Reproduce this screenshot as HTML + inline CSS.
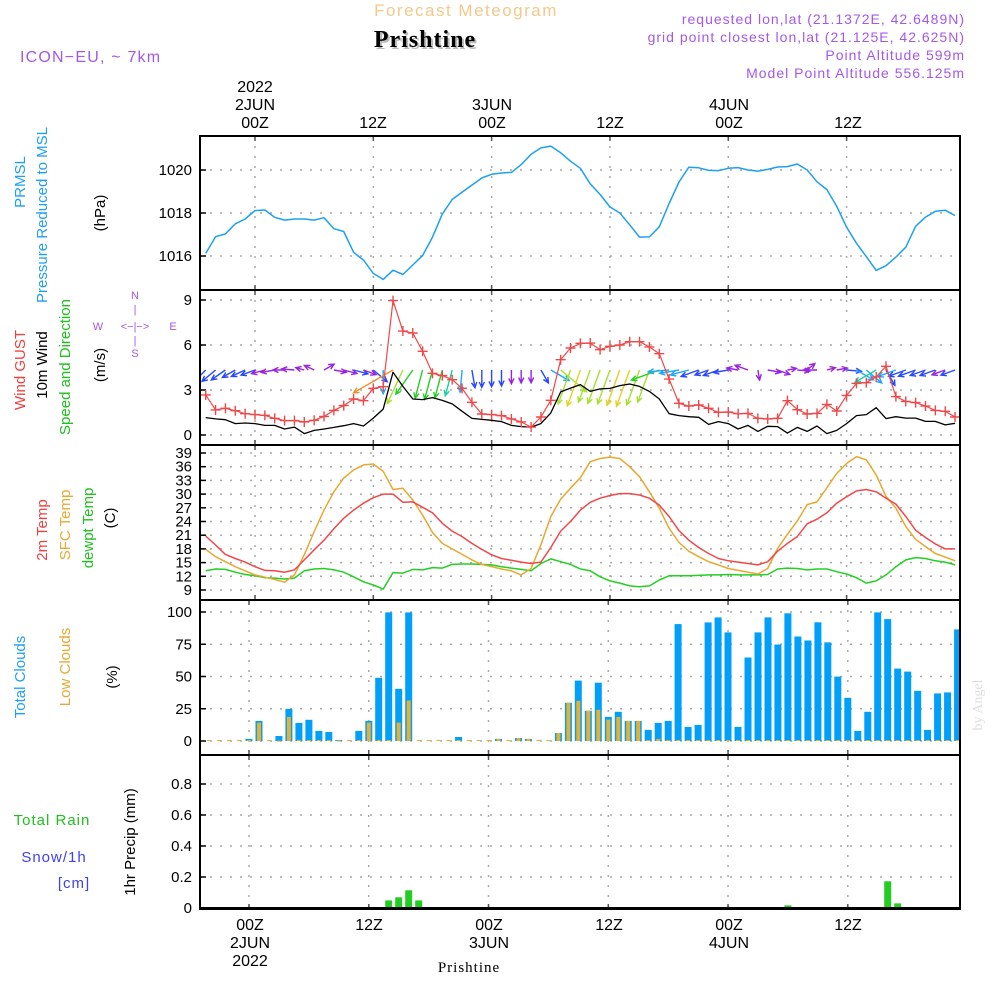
<!DOCTYPE html>
<html><head><meta charset="utf-8">
<style>
html,body{margin:0;padding:0;background:#fff;}
svg{display:block;font-family:"Liberation Sans",sans-serif;}
</style></head>
<body>
<svg id="chart" width="1000" height="1000" viewBox="0 0 1000 1000" xmlns="http://www.w3.org/2000/svg">
<rect x="0" y="0" width="1000" height="1000" fill="#fff"/>
<g>
<text x="466" y="16" text-anchor="middle" font-size="17" fill="#f2c98a" letter-spacing="1.5">Forecast Meteogram</text>
<text x="427" y="49" text-anchor="middle" font-size="24" font-weight="bold" fill="#bbb" font-family="Liberation Serif, serif" letter-spacing="1">Prishtine</text>
<text x="425" y="47" text-anchor="middle" font-size="24" font-weight="bold" fill="#000" font-family="Liberation Serif, serif" letter-spacing="1">Prishtine</text>
<text x="20" y="62" font-size="16" fill="#a458e8" letter-spacing="1.2">ICON−EU, ~ 7km</text>
<text x="965" y="24" text-anchor="end" font-size="14" fill="#a458e8" letter-spacing="1">requested lon,lat (21.1372E, 42.6489N)</text>
<text x="965" y="42" text-anchor="end" font-size="14" fill="#a458e8" letter-spacing="1">grid point closest lon,lat (21.125E, 42.625N)</text>
<text x="965" y="60" text-anchor="end" font-size="14" fill="#a458e8" letter-spacing="1">Point Altitude 599m</text>
<text x="965" y="78" text-anchor="end" font-size="14" fill="#a458e8" letter-spacing="1">Model Point Altitude 556.125m</text>
</g>
<g font-size="16" text-anchor="middle" fill="#000">
<text x="255" y="92">2022</text>
<text x="255" y="110">2JUN</text>
<text x="255" y="128">00Z</text>
<text x="373" y="128">12Z</text>
<text x="492" y="110">3JUN</text>
<text x="492" y="128">00Z</text>
<text x="610" y="128">12Z</text>
<text x="729" y="110">4JUN</text>
<text x="729" y="128">00Z</text>
<text x="848" y="128">12Z</text>
</g>
<g font-size="16" text-anchor="middle" fill="#000">
<text x="250" y="930">00Z</text>
<text x="369" y="930">12Z</text>
<text x="489" y="930">00Z</text>
<text x="609" y="930">12Z</text>
<text x="729" y="930">00Z</text>
<text x="848" y="930">12Z</text>
<text x="250" y="948">2JUN</text>
<text x="489" y="948">3JUN</text>
<text x="729" y="948">4JUN</text>
<text x="250" y="966">2022</text>
<text x="469" y="972" font-size="15" font-family="Liberation Serif, serif" letter-spacing="1">Prishtine</text>
</g>
<g font-size="15" text-anchor="middle">
<text transform="translate(25,182) rotate(-90)" fill="#1ea0f0">PRMSL</text>
<text transform="translate(47,215) rotate(-90)" fill="#1ea0f0">Pressure Reduced to MSL</text>
<text transform="translate(105,213) rotate(-90)" fill="#000">(hPa)</text>
<text transform="translate(25,370) rotate(-90)" fill="#f04040">Wind GUST</text>
<text transform="translate(47,365) rotate(-90)" fill="#000">10m Wind</text>
<text transform="translate(70,367) rotate(-90)" fill="#20c020">Speed and Direction</text>
<text transform="translate(105,365) rotate(-90)" fill="#000">(m/s)</text>
<text transform="translate(47,530) rotate(-90)" fill="#f04040">2m Temp</text>
<text transform="translate(70,525) rotate(-90)" fill="#e8a830">SFC Temp</text>
<text transform="translate(93,528) rotate(-90)" fill="#20c020">dewpt Temp</text>
<text transform="translate(115,518) rotate(-90)" fill="#000">(C)</text>
<text transform="translate(25,677) rotate(-90)" fill="#1ea0f0">Total Clouds</text>
<text transform="translate(70,667) rotate(-90)" fill="#e8a830">Low Clouds</text>
<text transform="translate(117,677) rotate(-90)" fill="#000">(%)</text>
<text transform="translate(135,842) rotate(-90)" fill="#000">1hr Precip (mm)</text>
<text x="52" y="825" fill="#20c020" letter-spacing="1">Total  Rain</text>
<text x="54" y="862" fill="#4040f0" letter-spacing="1">Snow/1h</text>
<text x="74" y="888" fill="#4040f0" letter-spacing="1">[cm]</text>
<text transform="translate(982,705) rotate(-90)" fill="#ddd" font-family="Liberation Serif, serif" font-size="14">by Angel</text>
</g>
<g font-size="11" fill="#a458e8" text-anchor="middle">
<text x="135" y="299">N</text><text x="135" y="313">|</text><text x="98" y="330">W</text>
<text x="135" y="330">&lt;−|−&gt;</text><text x="173" y="330">E</text><text x="135" y="344">|</text><text x="135" y="357">S</text>
</g>
<g id="plot"></g>
</svg>
<script>
// ---- data (hourly, hour offsets from 00Z 2JUN) ----
const hours = [];
for (let h = -5; h <= 71; h++) hours.push(h);
const pressure = [1016.12,1016.9,1017.03,1017.5,1017.72,1018.11,1018.14,1017.8,1017.67,1017.72,1017.72,1017.67,1017.78,1017.27,1017.14,1016.17,1015.81,1015.19,1014.91,1015.34,1015.14,1015.58,1016.02,1016.88,1017.95,1018.63,1018.97,1019.3,1019.63,1019.8,1019.86,1019.89,1020.25,1020.73,1021.03,1021.11,1020.8,1020.41,1020.08,
1019.36,1018.86,1018.28,1018.0,1017.45,1016.88,1016.89,1017.36,1018.44,1019.44,1020.13,1020.1,1019.98,1019.97,1020.08,1020.11,1020.0,1019.95,1020.03,1020.14,1020.16,1020.28,1020.0,1019.45,1019.09,1018.31,1017.34,1016.59,1015.97,1015.33,1015.55,1015.95,1016.41,1017.38,1017.81,1018.08,1018.13,1017.88];
const windGust = [2.67,1.67,1.78,1.62,1.42,1.36,1.31,1.11,0.96,0.96,0.87,0.98,1.24,1.64,1.96,2.4,2.29,3.11,3.22,8.96,6.93,6.8,5.58,4.11,3.96,3.69,3.11,2.18,1.4,1.36,1.29,1.07,0.87,0.53,1.2,2.31,5.02,5.8,6.11,
6.13,5.69,5.91,6.0,6.22,6.22,5.87,5.42,3.73,2.11,1.93,2.0,1.78,1.51,1.53,1.42,1.44,1.11,1.07,1.11,2.29,1.69,1.4,1.44,2.04,1.6,2.64,3.44,3.49,3.87,4.58,2.56,2.24,2.16,1.93,1.64,1.58,1.2];
const windSpeed = [1.16,1.07,1.02,0.76,0.8,0.76,0.64,0.64,0.4,0.53,0.09,0.31,0.4,0.51,0.62,0.76,0.6,1.13,1.73,4.18,3.24,2.4,2.36,2.49,2.31,2.07,1.58,1.11,1.04,0.98,0.89,0.64,0.56,0.53,0.76,1.47,2.87,3.13,3.36,
2.91,3.07,3.11,3.29,3.4,3.24,2.91,2.4,1.42,1.29,1.22,1.18,0.71,0.89,0.76,0.4,0.64,0.24,0.58,0.56,0.13,0.51,0.24,0.6,0.09,0.31,0.76,1.29,1.36,1.82,1.09,1.22,1.13,1.13,0.91,0.91,0.67,0.78];
const windDirScreen = [135,140,145,150,155,160,165,170,180,185,195,205,330,10,15,15,20,40,90,150,115,125,105,105,105,105,95,80,90,90,90,90,90,90,60,30,40,110,110,
110,110,110,110,110,110,110,160,175,170,165,160,160,160,170,190,200,80,10,20,350,5,320,180,345,350,5,30,40,150,60,160,160,160,160,160,160,160];
const temp2m = [20.8,18.85,16.8,15.9,15.1,14.1,13.3,13.2,12.9,13.4,15.6,17.8,19.9,22.4,24.7,26.5,28.0,29.2,30.0,30.0,28.2,28.3,27.1,25.9,23.6,21.9,20.7,19.2,17.9,16.7,15.9,15.5,15.1,14.8,15.1,18.3,21.9,24.0,26.5,
28.2,29.1,29.7,30.1,30.1,29.8,29.1,27.6,25.1,22.0,19.9,18.3,17.0,15.9,15.4,15.1,14.8,14.5,15.2,17.5,19.2,20.7,23.5,24.5,25.9,28.0,29.4,30.7,31.0,30.5,29.1,27.8,25.1,22.1,20.5,19.1,18.0,18.0];
const tempSfc = [17.9,16.3,15.2,14.1,13.2,12.3,11.8,11.3,10.7,12.3,16.7,21.8,26.5,30.5,33.5,35.3,36.4,36.6,35.0,31.0,31.3,28.7,25.4,21.6,19.2,18.0,16.8,15.6,14.6,14.1,13.6,13.2,12.3,13.7,18.9,25.1,28.9,31.3,33.6,
37.1,37.8,38.1,37.8,36.0,33.8,30.5,26.9,22.5,19.4,17.5,16.3,15.2,14.5,13.7,13.3,12.9,12.5,13.7,18.1,21.2,24.1,27.7,28.3,31.4,34.5,36.7,38.2,37.5,34.2,29.5,26.9,22.9,20.1,18.5,17.0,16.2,15.4];
const tempDew = [13.2,13.6,13.5,12.9,12.4,12.1,11.7,11.6,11.4,11.6,13.2,13.6,13.7,13.4,12.9,11.9,10.8,10.1,9.2,12.8,12.7,13.5,13.4,13.9,13.8,14.6,14.7,14.7,14.6,14.5,14.1,13.8,13.5,13.2,14.8,15.8,15.2,14.6,13.6,
13.2,11.9,11.0,10.5,9.9,9.7,9.9,11.2,12.1,12.1,12.1,12.2,12.3,12.3,12.4,12.3,12.3,12.3,12.4,13.6,13.8,13.7,13.4,13.6,13.6,13.0,12.5,11.7,10.5,11.0,12.3,14.1,15.6,16.1,15.9,15.4,15.1,14.5];
const totalClouds = [0,0,0,0,0,
1.6,15.6,0,3.9,24.9,14.0,16.4,7.8,7.0,0.8,0,7.8,15.6,49,99.7,40.5,99.7,0,0,0,0,3.1,0,0,0,1.6,0,2.3,1.6,0,0,6.2,29.6,46.8,
23.4,45.2,18.7,22.6,15.6,15.6,8.6,14.0,15.6,90.6,10.9,12.5,91.9,95.8,84.2,10.9,64.7,84.2,95.8,74.8,99.0,81.0,77.9,92.0,76.4,49.9,33.5,7.8,22.6,99.7,94.5,56.1,53.8,38.9,8.6,36.9,37.7,86.5];
const lowClouds = [0,0,0,0,0,
0,14.3,0,0.3,18.7,0,0,0,0,0.5,0,0,14.3,0,0.8,14.3,31.4,0,0,0,0,0,0,0,0,1.6,0,2.3,1.6,0,0,6.2,29.6,31.2,
23.4,24.2,16.6,18.7,15.6,15.6,0,1.6,0,0,0,0,0,0,0,0,0,0,0,0,0,0,0,0,0,0,0,0,0,0,0,0,0,0,0,0,0,0];
const precip = [0,0,0,0,0,0,0,0,0,0,0,0,0,0,0,0,0,0,0,0.049,0.069,0.114,0.049,0,0,0,0,0,0,0,0,0,0,0,0,0,0,0,0,
0,0,0,0,0,0,0,0,0,0,0,0,0,0,0,0,0,0,0,0,0.017,0.003,0.003,0.003,0.003,0,0,0,0,0,0.172,0.03,0,0,0,0,0,0];
const pressureTicks = [1016,1018,1020];
const windTicks = [0,3,6,9];
const tempTicks = [9,12,15,18,21,24,27,30,33,36,39];
const cloudTicks = [0,25,50,75,100];
const precipTicks = [0,0.2,0.4,0.6,0.8];
const gridHours = [0,12,24,36,48,60];

// ---- axes ----
const L = 200, R = 960;
const xTop = h => 255 + h * 9.86;
const xLow = h => 249 + h * 9.98;
const yP = v => 256 - (v - 1016) * 21.5;
const yW = v => 435 - v * 15;
const yT = v => 590 - (v - 9) * 4.567;
const yC = v => 741 - v * 1.29;
const yR = v => 908 - v * 155;
const panels = [[136,290],[290,445],[445,600],[600,755],[755,909]];

const NS = "http://www.w3.org/2000/svg";
const plot = document.getElementById("plot");
function mk(tag, attrs, parent) {
  const e = document.createElementNS(NS, tag);
  for (const k in attrs) e.setAttribute(k, attrs[k]);
  (parent || plot).appendChild(e);
  return e;
}
const defs = mk("defs", {});
panels.forEach((p, i) => {
  const cp = mk("clipPath", {id: "clip" + i}, defs);
  mk("rect", {x: L, y: p[0], width: R - L, height: p[1] - p[0]}, cp);
});

function grid(pi, ticks, yf, xf, fmt) {
  const g = mk("g", {});
  
  
  const [t, b] = panels[pi];
  gridHours.forEach(h => {
    const x = xf(h);
    mk("line", {x1: x, x2: x, y1: t, y2: b, stroke: "#aaa", "stroke-width": 1.5, "stroke-dasharray": "2,8"}, g);
    mk("line", {x1: x, x2: x, y1: t, y2: t + 5, stroke: "#555", "stroke-width": 1.5}, g);
    mk("line", {x1: x, x2: x, y1: b - 5, y2: b, stroke: "#555", "stroke-width": 1.5}, g);
  });
  ticks.forEach(v => {
    const y = yf(v);
    mk("line", {x1: L, x2: R, y1: y, y2: y, stroke: "#aaa", "stroke-width": 1.5, "stroke-dasharray": "2,8"}, g);
    mk("line", {x1: L, x2: L + 6, y1: y, y2: y, stroke: "#000", "stroke-width": 1.5}, g);
    const tx = mk("text", {x: 192, y: y + 5, "text-anchor": "end", "font-size": 15, fill: "#000"}, g);
    
    
    tx.textContent = fmt ? fmt(v) : v;
  });
}
grid(0, pressureTicks, yP, xTop);
grid(1, windTicks, yW, xTop);
grid(2, tempTicks, yT, xTop);
grid(3, cloudTicks, yC, xLow);
grid(4, precipTicks, yR, xLow, v => v === 0 ? "0" : v.toFixed(1));

function line(arr, xf, yf, color, w, pi, name) {
  const pts = arr.map((v, i) => xf(hours[i]).toFixed(1) + "," + yf(v).toFixed(1)).join(" ");
  const pl = mk("polyline", {points: pts, fill: "none", stroke: color, "stroke-width": w, "stroke-linejoin": "round", "clip-path": "url(#clip" + pi + ")"});
  
  
  return pl;
}
line(pressure, xTop, yP, "#1ea0f0", 1.5, 0, "pressure-line");

// wind arrows
function windColor(s) {
  if (s < 0.7) return "#9a22e0";
  if (s < 1.2) return "#2848ff";
  if (s < 1.8) return "#1ea8f8";
  if (s < 2.3) return "#18d0a0";
  if (s < 2.8) return "#22d022";
  if (s < 3.25) return "#a8e030";
  if (s < 3.8) return "#e8d020";
  return "#f09030";
}
const wg = mk("g", {"clip-path": "url(#clip1)"});


windSpeed.forEach((s, i) => {
  const x0 = xTop(hours[i]), y0 = 370;
  const a = windDirScreen[i] * Math.PI / 180;
  const len = 8 + s * 9;
  const x1 = x0 + Math.cos(a) * len, y1 = y0 + Math.sin(a) * len;
  const c = windColor(s);
  const h1 = a + Math.PI - 0.45, h2 = a + Math.PI + 0.45;
  const ar = mk("path", {d: `M${x0.toFixed(1)},${y0} L${x1.toFixed(1)},${y1.toFixed(1)} M${(x1+Math.cos(h1)*6).toFixed(1)},${(y1+Math.sin(h1)*6).toFixed(1)} L${x1.toFixed(1)},${y1.toFixed(1)} L${(x1+Math.cos(h2)*6).toFixed(1)},${(y1+Math.sin(h2)*6).toFixed(1)}`, stroke: c, "stroke-width": 1.4, fill: "none"}, wg);
  
  
});
line(windSpeed, xTop, yW, "#000", 1.3, 1, "wind-speed-line");
line(windGust, xTop, yW, "#f04848", 1.2, 1, "wind-gust-line");
const gm = mk("g", {"clip-path": "url(#clip1)"});


windGust.forEach((v, i) => {
  const x = xTop(hours[i]), y = yW(v);
  const m = mk("path", {d: `M${x-5},${y} H${x+5} M${x},${y-5} V${y+5}`, stroke: "#f04848", "stroke-width": 1.4}, gm);
  
  
});

line(tempDew, xTop, yT, "#22d022", 1.5, 2, "dewpoint-line");
line(tempSfc, xTop, yT, "#e8a830", 1.5, 2, "sfc-temp-line");
line(temp2m, xTop, yT, "#f04848", 1.5, 2, "temp-2m-line");

// clouds
const cg = mk("g", {"clip-path": "url(#clip3)"});


totalClouds.forEach((v, i) => {
  const x = xLow(hours[i]);
  if (v > 0) {
    const b = mk("rect", {x: (x - 3.5).toFixed(1), y: yC(v).toFixed(1), width: 7, height: (yC(0) - yC(v)).toFixed(1), fill: "#00a0fa"}, cg);
    
    
  }
  const lv = lowClouds[i];
  const lb = mk("rect", {x: (x - 2).toFixed(1), y: (yC(lv) - (lv > 0 ? 0 : 1)).toFixed(1), width: 4, height: Math.max(1, yC(0) - yC(lv)).toFixed(1), fill: "#e8b030"}, cg);
  
  
});

// precip
const pg = mk("g", {"clip-path": "url(#clip4)"});


precip.forEach((v, i) => {
  if (v <= 0) return;
  const x = xLow(hours[i]);
  const b = mk("rect", {x: (x - 3.5).toFixed(1), y: yR(v).toFixed(1), width: 7, height: Math.max(1, yR(0) - yR(v)).toFixed(1), fill: "#22cc22"}, pg);
  
  
});
const zl = mk("line", {x1: L, x2: R, y1: yR(0), y2: yR(0), stroke: "#000", "stroke-width": 2});



// frames
panels.forEach((p, i) => {
  const f = mk("rect", {x: L, y: p[0], width: R - L, height: p[1] - p[0], fill: "none", stroke: "#000", "stroke-width": 2});
  
  
});
</script>
</body></html>
